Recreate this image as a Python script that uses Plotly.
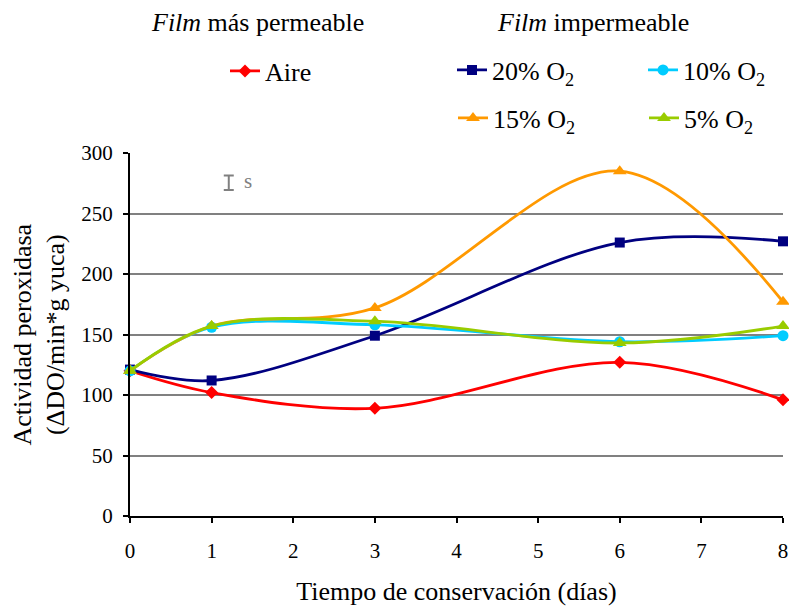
import plotly.graph_objects as go

# Storage time (days) at which peroxidase activity was measured
dias = [0, 1, 3, 6, 8]

# Peroxidase activity (ΔDO/min*g yuca) per packaging condition
aire = [120, 102, 89, 127, 96]
o2_20 = [121, 112, 149, 226, 227]
o2_10 = [120, 156, 158, 144, 149]
o2_15 = [120, 157, 172, 285, 177]
o2_5 = [120, 157, 161, 143, 157]

x_ticks = [0, 1, 2, 3, 4, 5, 6, 7, 8]
y_ticks = [0, 50, 100, 150, 200, 250, 300]

# Standard-deviation key drawn inside the plot
s_x, s_y, s_err = 1.21, 275.5, 6

FONT = "Liberation Serif"

series = [
    ("Aire", aire, "#FF0000", "diamond", 10, "legend"),
    ("20% O<sub>2</sub>", o2_20, "#000080", "square", 10, "legend2"),
    ("10% O<sub>2</sub>", o2_10, "#00CCFF", "circle", 11, "legend2"),
    ("15% O<sub>2</sub>", o2_15, "#FF9900", "triangle-up", 12, "legend3"),
    ("5% O<sub>2</sub>", o2_5, "#99CC00", "triangle-up", 12, "legend3"),
]

fig = go.Figure()
for name, vals, color, symbol, size, lg in series:
    fig.add_trace(go.Scatter(
        x=dias, y=vals, name=name, mode="lines+markers",
        line=dict(color=color, width=2.8, shape="spline", smoothing=1),
        marker=dict(color=color, symbol=symbol, size=size),
        legend=lg, cliponaxis=False,
    ))

# "I s" key: a gray error bar with its label
fig.add_trace(go.Scatter(
    x=[s_x], y=[s_y], mode="markers", showlegend=False, hoverinfo="skip",
    marker=dict(size=1, color="rgba(0,0,0,0)"),
    error_y=dict(type="data", array=[s_err], color="#808080", thickness=2, width=5),
))

fig.add_annotation(x=s_x + 0.24, y=s_y + 1, text="s", showarrow=False,
                   font=dict(family=FONT, size=21, color="#808080"), xanchor="center")

fig.add_annotation(xref="paper", yref="paper", x=(257 - 130) / 653, y=(516 - 22) / 363,
                   text="<i>Film</i> más permeable", showarrow=False,
                   font=dict(family=FONT, size=26, color="black"),
                   xanchor="center", yanchor="middle")
fig.add_annotation(xref="paper", yref="paper", x=(593 - 130) / 653, y=(516 - 22) / 363,
                   text="<i>Film</i> impermeable", showarrow=False,
                   font=dict(family=FONT, size=26, color="black"),
                   xanchor="center", yanchor="middle")

fig.add_annotation(xref="paper", yref="paper", x=(39 - 130) / 653, y=0.5,
                   text="Actividad peroxidasa<br>(ΔDO/min*g yuca)", textangle=-90,
                   showarrow=False, font=dict(family=FONT, size=26, color="black"),
                   xanchor="center", yanchor="middle")

legend_common = dict(font=dict(family=FONT, size=26, color="black"),
                     bgcolor="rgba(0,0,0,0)", borderwidth=0,
                     orientation="h", xanchor="left", yanchor="middle",
                     itemclick=False, itemdoubleclick=False)

fig.update_layout(
    width=789, height=606,
    margin=dict(l=130, r=6, t=153, b=90, autoexpand=False),
    paper_bgcolor="white", plot_bgcolor="white",
    font=dict(family=FONT, color="black"),
    legend=dict(x=(225 - 130) / 653, y=(516 - 71) / 363, **legend_common),
    legend2=dict(x=(452 - 130) / 653, y=(516 - 70) / 363, entrywidth=146, **legend_common),
    legend3=dict(x=(453 - 130) / 653, y=(516 - 118) / 363, entrywidth=146, **legend_common),
    xaxis=dict(
        range=[0, 8], tickvals=x_ticks, ticktext=[str(v) for v in x_ticks],
        showgrid=False, zeroline=False, showline=True, linecolor="black", linewidth=2,
        ticks="outside", ticklen=5, tickwidth=1.5, tickcolor="black",
        tickfont=dict(family=FONT, size=21), fixedrange=True, ticklabelstandoff=10,
        title=dict(text="Tiempo de conservación (días)", font=dict(family=FONT, size=26),
                   standoff=22),
    ),
    yaxis=dict(
        range=[0, 300], tickvals=y_ticks,
        showgrid=True, gridcolor="#808080", gridwidth=2,
        zeroline=False, showline=True, linecolor="black", linewidth=2,
        ticks="outside", ticklen=5, tickwidth=1.5, tickcolor="black",
        tickfont=dict(family=FONT, size=21), fixedrange=True, ticklabelstandoff=6,
    ),
)

fig.write_html("out.html")
